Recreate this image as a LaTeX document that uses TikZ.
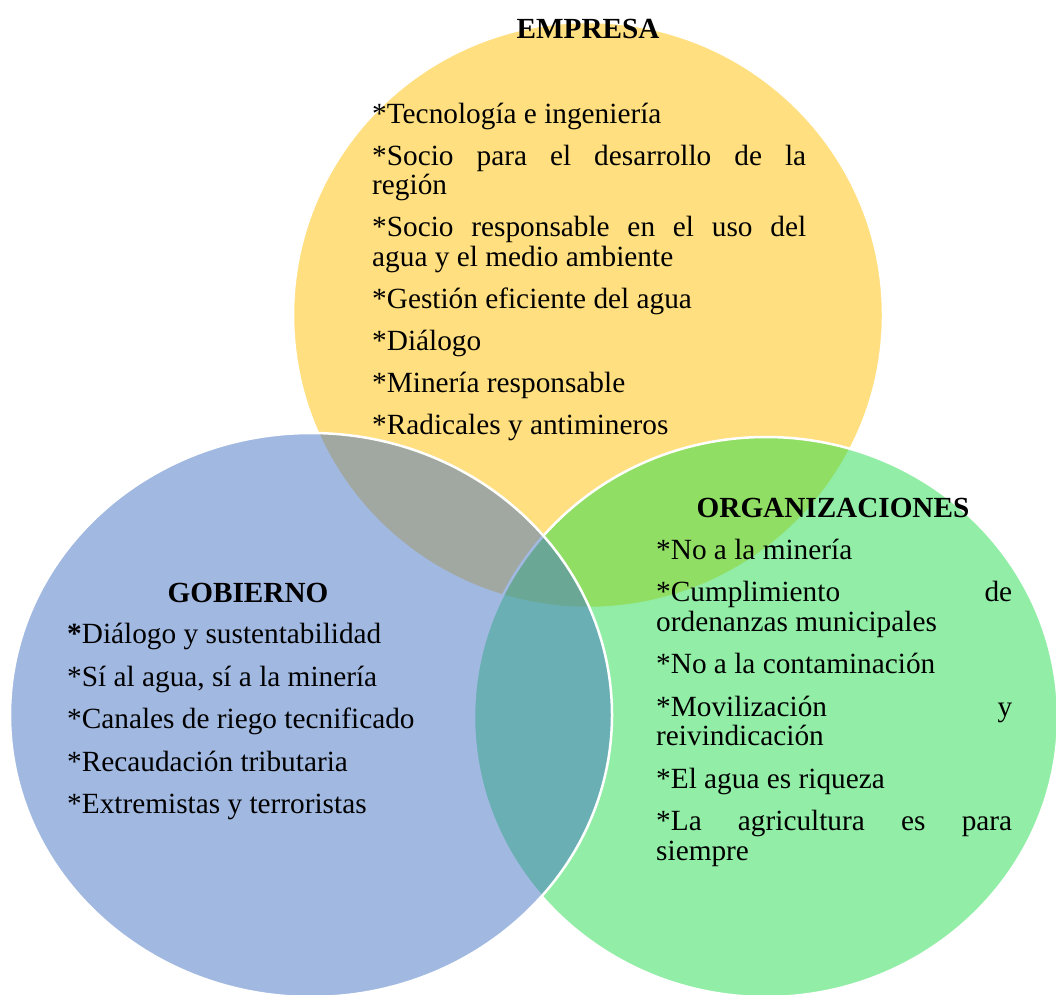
\documentclass[tikz,border=0pt]{standalone}
\usepackage{fontspec}
\setmainfont{Liberation Serif}
\definecolor{cyellow}{HTML}{FFC000}
\definecolor{cblue}{HTML}{4472C4}
\definecolor{cgreen}{HTML}{25DD4D}
\hbadness=10000
\begin{document}
\begin{tikzpicture}[x=1pt,y=-1pt,
  setc/.style={fill=#1, fill opacity=0.5, draw=white, draw opacity=1, line width=2.5pt},
  title/.style={inner sep=0pt, anchor=base, font=\fontsize{29.2}{29.5}\selectfont\bfseries},
  items/.style={inner sep=0pt, anchor=base west, text width=#1, align=justify,
    font=\fontsize{29.3}{29.5}\selectfont}]
\useasboundingbox (0,0) rectangle (1056,994);
\path[setc=cyellow] (588,315) ellipse [x radius=295, y radius=293];
\path[setc=cgreen] (766,717) ellipse [x radius=292, y radius=280];
\path[setc=cblue] (311,715) ellipse [x radius=301, y radius=282];

\node[title] (tE) at (588,38) {EMPRESA};
\node[items=434pt] (lE) at (372,123) {\setlength{\parskip}{12.5pt}%
*Tecnología e ingeniería\par
*Socio para el desarrollo de la\linebreak región\par
*Socio responsable en el uso del\linebreak agua y el medio ambiente\par
*Gestión eficiente del agua\par
*Diálogo\par
*Minería responsable\par
*Radicales y antimineros};

\node[title] (tO) at (833,517) {ORGANIZACIONES};
\node[items=356pt] (lO) at (656,559) {\setlength{\parskip}{13pt}%
*No a la minería\par
*Cumplimiento de\linebreak ordenanzas municipales\par
*No a la contaminación\par
*Movilización y\linebreak reivindicación\par
*El agua es riqueza\par
*La agricultura es para\linebreak siempre};

\node[title] (tG) at (248,602) {GOBIERNO};
\node[items=380pt] (lG) at (67,643.5) {\setlength{\parskip}{13pt}%
{\bfseries *}Diálogo y sustentabilidad\par
*Sí al agua, sí a la minería\par
*Canales de riego tecnificado\par
*Recaudación tributaria\par
*Extremistas y terroristas};
\end{tikzpicture}
\end{document}
